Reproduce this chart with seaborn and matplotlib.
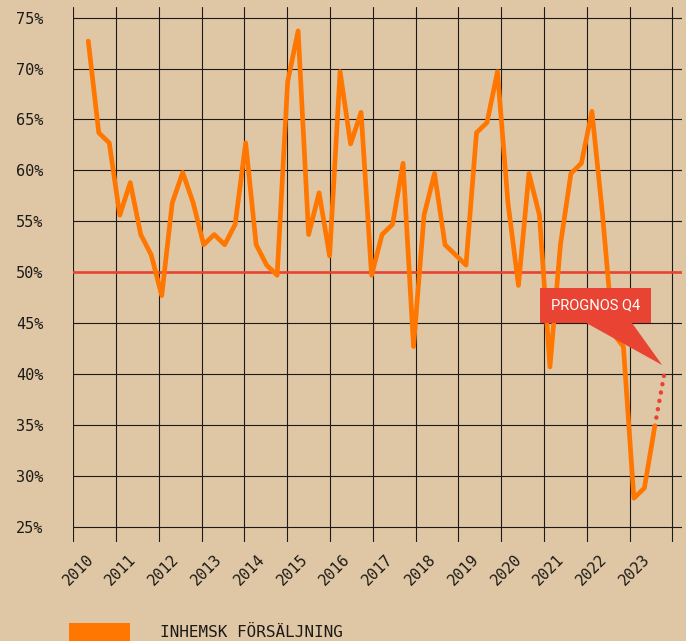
import numpy as np
import pandas as pd
import seaborn as sns
import matplotlib.pyplot as plt
from matplotlib.patches import Patch
from matplotlib.transforms import ScaledTranslation

# andel (%) per kvartal, Q2 2010 - Q3 2023
andel = [72.7, 63.7, 62.7, 55.6, 58.8, 53.7, 51.7, 47.7, 56.8, 59.8,
         56.8, 52.7, 53.7, 52.7, 54.7, 62.7, 52.7, 50.7, 49.7, 68.7,
         73.7, 53.7, 57.8, 51.6, 69.7, 62.6, 65.7, 49.7, 53.7, 54.7,
         60.7, 42.7, 55.6, 59.7, 52.7, 51.7, 50.7, 63.7, 64.7, 69.7,
         56.8, 48.7, 59.7, 55.6, 40.7, 52.7, 59.7, 60.7, 65.8, 55.8,
         44.0, 42.7, 27.8, 28.8, 34.9]
prognos = 40.6          # Q4 2023
grans = 50              # 50%-linjen

years = list(range(2010, 2025))
year_labels = [str(y) for y in years[:-1]] + [""]
y_ticks = list(range(25, 80, 5))
y_labels = [f"{v}%" for v in y_ticks]
legend_label = "INHEMSK FÖRSÄLJNING"
note = "PROGNOS Q4"

# x position of each quarter in decimal years
tid = 2010.35 + 0.2452 * np.arange(len(andel) + 1)

BG = "#dfc7a5"
ORANGE = "#ff7700"
RED = "#e94433"
INK = "#1c1a17"

sns.set_theme(style="white", rc={"axes.facecolor": BG, "figure.facecolor": BG})
plt.rcParams["font.family"] = ["DejaVu Sans Mono", "DejaVu Sans"]
plt.rcParams["lines.scale_dashes"] = False

df = pd.DataFrame({"tid": tid[:-1], "andel": andel})

fig = plt.figure(figsize=(6.86, 6.41), dpi=100)
ax = fig.add_axes([73.3 / 686, 1 - 542 / 641, (682 - 73.3) / 686, (542 - 7.3) / 641])

ax.axhline(grans, color=RED, lw=1.9, zorder=2)
# prognosis, dotted (dash lengths in points)
ax.plot(tid[-2:], [andel[-1], prognos], color=RED, lw=3.2,
        linestyle=(0, (0.1, 6.0)), dash_capstyle="round", zorder=3)
sns.lineplot(data=df, x="tid", y="andel", ax=ax, color=ORANGE, lw=3.4, zorder=4)

ax.set_xlim(2010, 2024.225)
ax.set_ylim(23.5, 76.02)
ax.set_xticks(years)
ax.set_xticklabels(year_labels, rotation=45, ha="center", va="top")
ax.set_yticks(y_ticks)
ax.set_yticklabels(y_labels)
ax.set_xlabel("")
ax.set_ylabel("")
ax.grid(True, color=INK, lw=0.8)
ax.set_axisbelow(True)
for s in ax.spines.values():
    s.set_visible(False)
ax.tick_params(axis="both", length=0, labelsize=11, colors=INK)
ax.tick_params(axis="y", pad=21.6)
ax.tick_params(axis="x", pad=7)
for lbl in ax.get_xticklabels():
    lbl.set_transform(lbl.get_transform() + ScaledTranslation(0.05, 0, fig.dpi_scale_trans))

ax.annotate(note, xy=(tid[-1], prognos), xytext=(-50.4, 44.9), textcoords="offset points",
            ha="center", va="center", color="white", fontsize=10.5,
            family=["Roboto", "DejaVu Sans"],
            bbox=dict(boxstyle="square,pad=0.75", fc=RED, ec="none"),
            arrowprops=dict(arrowstyle="wedge,tail_width=2.9", fc=RED, ec="none",
                            patchA=None, shrinkA=0, shrinkB=3, mutation_scale=10),
            zorder=6)

fig.legend(handles=[Patch(facecolor=ORANGE, edgecolor="none")], labels=[legend_label],
           loc="upper left", bbox_to_anchor=(69 / 686, 1 - 622.7 / 641),
           frameon=False, borderpad=0, borderaxespad=0, handlelength=3.8,
           handleheight=1.4, handletextpad=1.9, fontsize=11.5, labelcolor=INK)

fig.savefig("out.png", dpi=100, facecolor=BG)
